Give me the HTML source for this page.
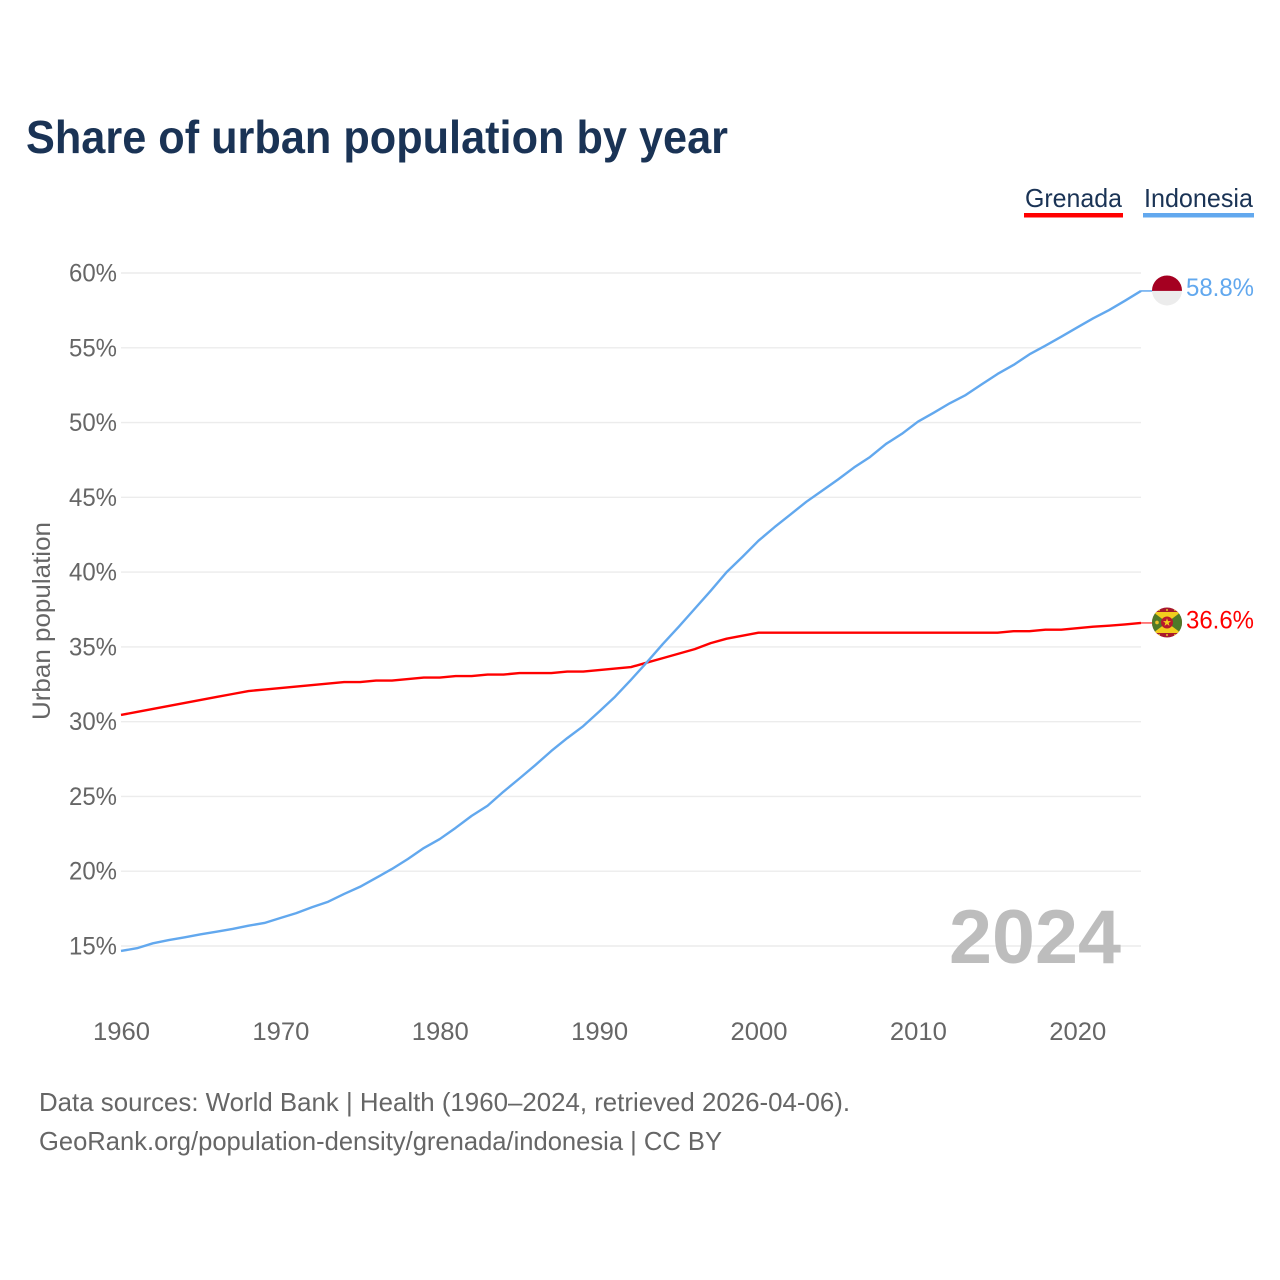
<!DOCTYPE html>
<html lang="en">
<head>
<meta charset="utf-8">
<title>Share of urban population by year</title>
<style>
html,body{margin:0;padding:0;background:#fff;width:1280px;height:1280px;overflow:hidden}
svg{display:block}
text{font-family:"Liberation Sans",sans-serif}
</style>
</head>
<body>
<svg id="chart" xmlns="http://www.w3.org/2000/svg" width="1280" height="1280" viewBox="0 0 1280 1280">
  <defs>
    <clipPath id="id-clip"><circle id="id-clip-c" r="15"></circle></clipPath>
    <clipPath id="gd-clip"><circle id="gd-clip-c" r="15"></circle></clipPath>
  </defs>
  <rect width="1280" height="1280" fill="#fff"></rect>
  <text x="26" y="153" font-size="46" font-weight="700" fill="#1a3355" textLength="702" lengthAdjust="spacingAndGlyphs">Share of urban population by year</text>

  <g>
    <text x="1025" y="207" font-size="26" fill="#1a3355" textLength="97" lengthAdjust="spacingAndGlyphs">Grenada</text>
    <rect x="1024" y="213" width="99" height="4.5" fill="#ff0000"></rect>
  </g>
  <g>
    <text x="1144" y="207" font-size="26" fill="#1a3355" textLength="109" lengthAdjust="spacingAndGlyphs">Indonesia</text>
    <rect x="1143" y="213" width="111" height="4.5" fill="#62a8ee"></rect>
  </g>

  <g id="grid"></g>
  <g id="yticks"></g>
  <g id="xticks"></g>
  <text transform="translate(50,621) rotate(-90)" text-anchor="middle" font-size="25" fill="#666" textLength="198" lengthAdjust="spacingAndGlyphs">Urban population</text>
  <text id="watermark" x="1121" y="963" text-anchor="end" font-size="76" font-weight="700" fill="#bdbdbd" textLength="172" lengthAdjust="spacingAndGlyphs"></text>
  <g id="series"></g>
  <g id="ends"></g>

  <text x="39" y="1111" font-size="26" fill="#666" textLength="811" lengthAdjust="spacingAndGlyphs">Data sources: World Bank | Health (1960–2024, retrieved 2026-04-06).</text>
  <text x="39" y="1150" font-size="26" fill="#666" textLength="683" lengthAdjust="spacingAndGlyphs">GeoRank.org/population-density/grenada/indonesia | CC BY</text>
</svg>
<script>
const years = [1960,1961,1962,1963,1964,1965,1966,1967,1968,1969,1970,1971,1972,1973,1974,1975,1976,1977,1978,1979,1980,1981,1982,1983,1984,1985,1986,1987,1988,1989,1990,1991,1992,1993,1994,1995,1996,1997,1998,1999,2000,2001,2002,2003,2004,2005,2006,2007,2008,2009,2010,2011,2012,2013,2014,2015,2016,2017,2018,2019,2020,2021,2022,2023,2024];
const indonesia = [14.67,14.85,15.18,15.4,15.58,15.78,15.96,16.14,16.36,16.54,16.87,17.2,17.6,17.96,18.48,18.96,19.55,20.15,20.82,21.55,22.15,22.9,23.7,24.38,25.32,26.2,27.1,28.04,28.9,29.7,30.67,31.67,32.8,33.98,35.2,36.35,37.55,38.75,40.0,41.03,42.1,43.0,43.85,44.7,45.45,46.2,47.0,47.7,48.57,49.25,50.06,50.66,51.29,51.84,52.55,53.25,53.85,54.56,55.14,55.74,56.36,56.97,57.52,58.15,58.8];
const grenada = [30.45,30.65,30.85,31.05,31.25,31.45,31.65,31.85,32.05,32.15,32.25,32.35,32.45,32.55,32.65,32.65,32.75,32.75,32.85,32.95,32.95,33.05,33.05,33.15,33.15,33.25,33.25,33.25,33.35,33.35,33.45,33.55,33.65,33.95,34.25,34.55,34.85,35.25,35.55,35.75,35.95,35.95,35.95,35.95,35.95,35.95,35.95,35.95,35.95,35.95,35.95,35.95,35.95,35.95,35.95,35.95,36.05,36.05,36.15,36.15,36.25,36.35,36.42,36.5,36.6];
const yTicks = [15,20,25,30,35,40,45,50,55,60];
const xTicks = [1960,1970,1980,1990,2000,2010,2020];

const NS = 'http://www.w3.org/2000/svg';
function xScale(year){ return 121 + (year - 1960) * (1141 - 121) / (2024 - 1960); }
function yScale(v){ return 946 - (v - 15) * (946 - 273) / (60 - 15); }
function mk(tag, parent, attrs){
  const e = document.createElementNS(NS, tag);
  for (const k in attrs) e.setAttribute(k, attrs[k]);
  parent.appendChild(e);
  return e;
}

const grid = document.getElementById('grid');
const yt = document.getElementById('yticks');
yTicks.forEach(function(v){
  const line = mk('line', grid, {x1:121, x2:1141, y1:yScale(v), y2:yScale(v), stroke:'#ececec', 'stroke-width':1.4});
  
  
  const t = mk('text', yt, {x:117, y:yScale(v)+8.5, 'text-anchor':'end', 'font-size':25, fill:'#666', textLength:48, lengthAdjust:'spacingAndGlyphs'});
  t.textContent = v + '%';
  
  
});

const xt = document.getElementById('xticks');
xTicks.forEach(function(y){
  const t = mk('text', xt, {x:xScale(y)+0.5, y:1040, 'text-anchor':'middle', 'font-size':25, fill:'#666', textLength:57, lengthAdjust:'spacingAndGlyphs'});
  t.textContent = y;
  
  
});

document.getElementById('watermark').textContent = years[years.length-1];

function linePath(vals){
  return vals.map(function(v,i){ return (i?'L':'M') + xScale(years[i]).toFixed(2) + ' ' + yScale(v).toFixed(2); }).join(' ');
}
const seriesG = document.getElementById('series');
const redLine = mk('path', seriesG, {d:linePath(grenada), fill:'none', stroke:'#ff0000', 'stroke-width':2.4, 'stroke-linejoin':'round'});


const blueLine = mk('path', seriesG, {d:linePath(indonesia), fill:'none', stroke:'#62a8ee', 'stroke-width':2.4, 'stroke-linejoin':'round'});



const ends = document.getElementById('ends');
const lastId = indonesia[indonesia.length-1];
const lastGd = grenada[grenada.length-1];
const idY = yScale(lastId);
const gdY = yScale(lastGd);
const fx = 1167;

const c1 = mk('line', ends, {x1:1141, x2:1153, y1:idY, y2:idY, stroke:'#62a8ee', 'stroke-width':1.5});


const c2 = mk('line', ends, {x1:1141, x2:1153, y1:gdY, y2:gdY, stroke:'#ff0000', 'stroke-width':1});



document.getElementById('id-clip-c').setAttribute('cx', fx);
document.getElementById('id-clip-c').setAttribute('cy', idY - 0.5);
document.getElementById('gd-clip-c').setAttribute('cx', fx);
document.getElementById('gd-clip-c').setAttribute('cy', gdY - 0.5);

const idFlag = mk('g', ends, {'clip-path':'url(#id-clip)'});


mk('rect', idFlag, {x:fx-15, y:idY-16, width:30, height:16, fill:'#a50021'});
mk('rect', idFlag, {x:fx-15, y:idY, width:30, height:15, fill:'#ececec'});

const gdFlag = mk('g', ends, {'clip-path':'url(#gd-clip)'});


const gy = gdY - 0.5;
mk('rect', gdFlag, {x:fx-15, y:gy-15, width:30, height:30, fill:'#a8182c'});
mk('rect', gdFlag, {x:fx-15, y:gy-10.5, width:30, height:21, fill:'#4f7a28'});
mk('polygon', gdFlag, {points:[fx-14,gy-10.5,fx,gy,fx+14,gy-10.5].join(' '), fill:'#f2cd1e'});
mk('polygon', gdFlag, {points:[fx-14,gy+10.5,fx,gy,fx+14,gy+10.5].join(' '), fill:'#f2cd1e'});
mk('circle', gdFlag, {cx:fx, cy:gy, r:6, fill:'#b8182c'});
const starPts = [];
for (let i = 0; i < 10; i++) {
  const r = i % 2 ? 1.7 : 4.2;
  const a = -Math.PI / 2 + i * Math.PI / 5;
  starPts.push((fx + r * Math.cos(a)).toFixed(2) + ',' + (gy + r * Math.sin(a)).toFixed(2));
}
mk('polygon', gdFlag, {points:starPts.join(' '), fill:'#f2cd1e'});
mk('circle', gdFlag, {cx:fx-10, cy:gy, r:1.8, fill:'#e9c22a'});
[-8,0,8].forEach(function(d){
  mk('circle', gdFlag, {cx:fx+d, cy:gy-12.5, r:1, fill:'#e9c22a'});
  mk('circle', gdFlag, {cx:fx+d, cy:gy+12.5, r:1, fill:'#e9c22a'});
});

const idLabel = mk('text', ends, {x:1186, y:idY+5, 'font-size':25, fill:'#62a8ee', textLength:68, lengthAdjust:'spacingAndGlyphs'});
idLabel.textContent = lastId.toFixed(1) + '%';


const gdLabel = mk('text', ends, {x:1186, y:gdY+5.5, 'font-size':25, fill:'#ff0000', textLength:68, lengthAdjust:'spacingAndGlyphs'});
gdLabel.textContent = lastGd.toFixed(1) + '%';


</script>
</body>
</html>
